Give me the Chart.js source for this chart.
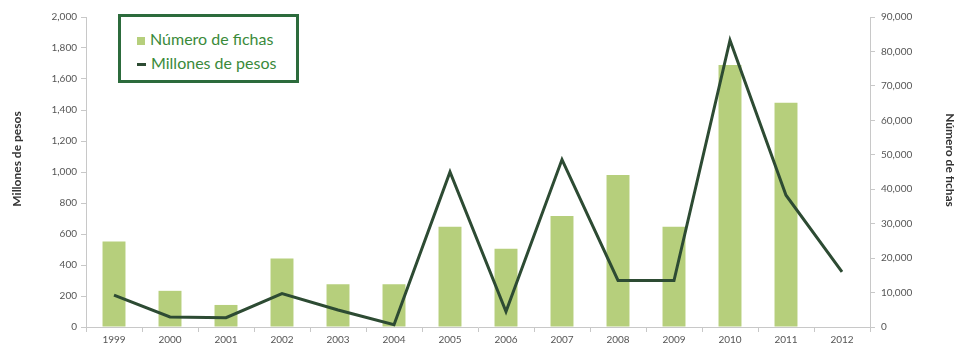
<!DOCTYPE html>
<html>
<head>
<meta charset="utf-8">
<script src="https://cdn.jsdelivr.net/npm/chart.js@4"></script>
<style>
  html, body { margin: 0; padding: 0; background: #fff; }
  .wrap { position: relative; width: 954px; height: 348px; overflow: hidden; }
  #legend {
    position: absolute; left: 118px; top: 14px; width: 175px; height: 63px;
    border: 3px solid #2c6b3c; background: #fff;
    font-family: Lato, "Open Sans", sans-serif; font-size: 16px; color: #3a8a3a;
    box-sizing: content-box;
  }
  #legend div { position: absolute; left: 16px; white-space: nowrap; line-height: 18px; }
  #legend span.sw { display: inline-block; vertical-align: middle; margin-right: 5px; }
</style>
</head>
<body>
<div class="wrap">
  <canvas id="chart" width="954" height="348"></canvas>
  <div id="legend"></div>
</div>
<script>
//! Data

const years = ["1999", "2000", "2001", "2002", "2003", "2004", "2005", "2006", "2007", "2008", "2009", "2010", "2011", "2012"];
const fichas = [24800, 10500, 6400, 19900, 12400, 12400, 29100, 22700, 32200, 44100, 29100, 76100, 65100, null];
const millones = [205, 65, 60, 215, 110, 15, 1000, 100, 1080, 300, 300, 1850, 850, 355];

const barColor = "#b6cf7c";
const lineColor = "#2d4b33";
const tickColor = "#555";
const axisColor = "#c8c8c8";

const fmt = (v) => v.toLocaleString("en-US");

//! Axis titles (drawn by hand so they sit where we want them)

const axisTitles = {
  id: "axisTitles",
  afterDraw(c) {
    const ctx = c.ctx;
    ctx.save();
    ctx.fillStyle = "#333";
    ctx.font = "bold 12px Lato";
    ctx.textAlign = "center";
    ctx.textBaseline = "middle";
    ctx.translate(17, 159);
    ctx.rotate(-Math.PI / 2);
    ctx.fillText("Millones de pesos", 0, 0);
    ctx.restore();

    ctx.save();
    ctx.fillStyle = "#333";
    ctx.font = "bold 12px Lato";
    ctx.textAlign = "center";
    ctx.textBaseline = "middle";
    ctx.translate(950, 160);
    ctx.rotate(Math.PI / 2);
    ctx.fillText("Número de fichas", 0, 0);
    ctx.restore();
  },
};

const chart = new Chart(document.getElementById("chart"), {
  data: {
    labels: years,
    datasets: [
      {
        type: "line",
        label: "Millones de pesos",
        data: millones,
        yAxisID: "yPesos",
        borderColor: lineColor,
        borderWidth: 3,
        pointRadius: 0,
        tension: 0,
        order: 0,
      },
      {
        type: "bar",
        label: "Número de fichas",
        data: fichas,
        yAxisID: "yFichas",
        backgroundColor: barColor,
        categoryPercentage: 1,
        barPercentage: 0.41,
        order: 1,
      },
    ],
  },
  options: {
    responsive: false,
    animation: false,
    layout: { padding: { top: 17, left: 0, right: 0, bottom: 0 } },
    plugins: { legend: { display: false }, tooltip: { enabled: false } },
    scales: {
      x: {
        grid: { drawOnChartArea: false, color: axisColor, tickLength: 5 },
        border: { color: axisColor },
        ticks: { color: tickColor, font: { family: "Lato", size: 10 }, padding: 2, maxRotation: 0 },
        afterFit: (s) => { s.height = 21; },
      },
      yPesos: {
        position: "left",
        min: 0,
        max: 2000,
        ticks: { stepSize: 200, color: tickColor, font: { family: "Lato", size: 10 }, padding: 4, callback: fmt },
        grid: { drawOnChartArea: false, color: axisColor, tickLength: 5 },
        border: { color: axisColor },
        afterFit: (s) => { s.width = 86; },
      },
      yFichas: {
        position: "right",
        min: 0,
        max: 90000,
        ticks: { stepSize: 10000, color: tickColor, font: { family: "Lato", size: 10 }, padding: 6, callback: fmt },
        grid: { drawOnChartArea: false, color: axisColor, tickLength: 5 },
        border: { color: axisColor },
        afterFit: (s) => { s.width = 84; },
      },
    },
  },
  plugins: [axisTitles],
});

//! Legend

const legend = document.getElementById("legend");
const rows = [
  { label: chart.data.datasets[1].label, swatch: `width:8px;height:8px;background:${barColor}`, top: 13 },
  { label: chart.data.datasets[0].label, swatch: `width:9px;height:3px;background:${lineColor}`, top: 37 },
];
rows.forEach((r) => {
  const row = document.createElement("div");
  row.style.top = r.top + "px";
  row.innerHTML = `<span class="sw" style="${r.swatch}"></span>${r.label}`;
  legend.appendChild(row);
});
</script>
</body>
</html>
